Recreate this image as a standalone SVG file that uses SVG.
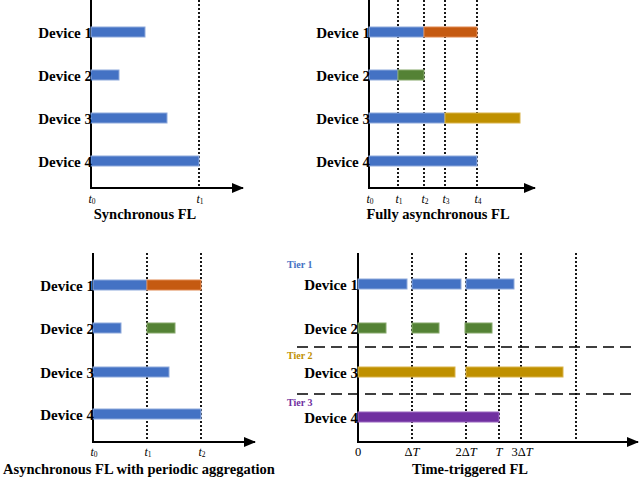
<svg xmlns="http://www.w3.org/2000/svg" width="640" height="480" viewBox="0 0 640 480">
<defs>
<marker id="arr" markerWidth="12" markerHeight="10" refX="11" refY="5" orient="auto" markerUnits="userSpaceOnUse">
<path d="M0,0 L12,5 L0,10 z" fill="#000"/>
</marker>
<style>
.ax{stroke:#000;stroke-width:2;fill:none}
.dot{stroke:#000;stroke-width:1.8;stroke-dasharray:2 2;fill:none}
.dash{stroke:#000;stroke-width:1.6;stroke-dasharray:11 6;fill:none}
.dev{font-family:"Liberation Serif",serif;font-weight:bold;font-size:15px;text-anchor:end;fill:#000}
.ttl{font-family:"Liberation Serif",serif;font-weight:bold;font-size:14.5px;text-anchor:middle;fill:#000}
.tl{font-family:"Liberation Serif",serif;font-style:italic;font-size:12px;text-anchor:middle;fill:#000}
.sub{font-size:7.5px;font-style:normal}
.dl{font-family:"Liberation Serif",serif;font-size:12.5px;text-anchor:middle;fill:#000}
.tier{font-family:"Liberation Serif",serif;font-weight:bold;font-size:10px}
.b{fill:#4472C4;stroke:#8EA9DB;stroke-width:1}
.o{fill:#C55A11;stroke:#E08850;stroke-width:1}
.g{fill:#548235;stroke:#86A86A;stroke-width:1}
.y{fill:#BF9000;stroke:#D9B34A;stroke-width:1}
.p{fill:#7030A0;stroke:#9A66C0;stroke-width:1}
</style>
</defs>

<!-- Panel 1: Synchronous FL -->
<g id="panel1">
<g id="p1-connectors">
<line class="dot" x1="199" y1="0" x2="199" y2="188"/>
<line class="ax" x1="91" y1="0" x2="91" y2="188"/>
<line class="ax" x1="90" y1="188" x2="243" y2="188" marker-end="url(#arr)"/>
</g>
<g id="p1-dev1"><rect class="b" x="91" y="27" width="54" height="10"/><text class="dev" x="92" y="37.5">Device 1</text></g>
<g id="p1-dev2"><rect class="b" x="91" y="70" width="28" height="10"/><text class="dev" x="92" y="80.5">Device 2</text></g>
<g id="p1-dev3"><rect class="b" x="91" y="113" width="76" height="10"/><text class="dev" x="92" y="123.5">Device 3</text></g>
<g id="p1-dev4"><rect class="b" x="91" y="156" width="108" height="10"/><text class="dev" x="92" y="166.5">Device 4</text></g>
<text class="tl" x="92" y="203">t<tspan class="sub" dy="1">0</tspan></text>
<text class="tl" x="200" y="203">t<tspan class="sub" dy="1">1</tspan></text>
<text class="ttl" x="145" y="219">Synchronous FL</text>
</g>

<!-- Panel 2: Fully asynchronous FL -->
<g id="panel2">
<g id="p2-connectors">
<line class="dot" x1="398" y1="0" x2="398" y2="188"/>
<line class="dot" x1="424" y1="0" x2="424" y2="188"/>
<line class="dot" x1="445" y1="0" x2="445" y2="188"/>
<line class="dot" x1="477" y1="0" x2="477" y2="188"/>
<line class="ax" x1="369" y1="0" x2="369" y2="188"/>
<line class="ax" x1="368" y1="188" x2="535" y2="188" marker-end="url(#arr)"/>
</g>
<g id="p2-dev1"><rect class="b" x="369" y="27" width="55" height="10"/><rect class="o" x="424" y="27" width="53" height="10"/><text class="dev" x="370" y="37.5">Device 1</text></g>
<g id="p2-dev2"><rect class="b" x="369" y="70" width="29" height="10"/><rect class="g" x="398" y="70" width="26" height="10"/><text class="dev" x="370" y="80.5">Device 2</text></g>
<g id="p2-dev3"><rect class="b" x="369" y="113" width="76" height="10"/><rect class="y" x="445" y="113" width="75" height="10"/><text class="dev" x="370" y="123.5">Device 3</text></g>
<g id="p2-dev4"><rect class="b" x="369" y="156" width="108" height="10"/><text class="dev" x="370" y="166.5">Device 4</text></g>
<text class="tl" x="370" y="203">t<tspan class="sub" dy="1">0</tspan></text>
<text class="tl" x="399" y="203">t<tspan class="sub" dy="1">1</tspan></text>
<text class="tl" x="425" y="203">t<tspan class="sub" dy="1">2</tspan></text>
<text class="tl" x="446" y="203">t<tspan class="sub" dy="1">3</tspan></text>
<text class="tl" x="478" y="203">t<tspan class="sub" dy="1">4</tspan></text>
<text class="ttl" x="438" y="219">Fully asynchronous FL</text>
</g>

<!-- Panel 3: Asynchronous FL with periodic aggregation -->
<g id="panel3">
<g id="p3-connectors">
<line class="dot" x1="147" y1="253" x2="147" y2="442"/>
<line class="dot" x1="201" y1="253" x2="201" y2="442"/>
<line class="ax" x1="93" y1="253" x2="93" y2="442"/>
<line class="ax" x1="92" y1="442" x2="255" y2="442" marker-end="url(#arr)"/>
</g>
<g id="p3-dev1"><rect class="b" x="93" y="280" width="54" height="10"/><rect class="o" x="147" y="280" width="54" height="10"/><text class="dev" x="94" y="290.5">Device 1</text></g>
<g id="p3-dev2"><rect class="b" x="93" y="323" width="28" height="10"/><rect class="g" x="147" y="323" width="28" height="10"/><text class="dev" x="94" y="333.5">Device 2</text></g>
<g id="p3-dev3"><rect class="b" x="93" y="367" width="76" height="10"/><text class="dev" x="94" y="377.5">Device 3</text></g>
<g id="p3-dev4"><rect class="b" x="93" y="409" width="108" height="10"/><text class="dev" x="94" y="419.5">Device 4</text></g>
<text class="tl" x="94" y="456">t<tspan class="sub" dy="1">0</tspan></text>
<text class="tl" x="148" y="456">t<tspan class="sub" dy="1">1</tspan></text>
<text class="tl" x="202" y="456">t<tspan class="sub" dy="1">2</tspan></text>
<text class="ttl" x="139" y="474">Asynchronous FL with periodic aggregation</text>
</g>

<!-- Panel 4: Time-triggered FL -->
<g id="panel4">
<g id="p4-connectors">
<line class="dot" x1="412" y1="253" x2="412" y2="442"/>
<line class="dot" x1="466" y1="253" x2="466" y2="442"/>
<line class="dot" x1="499" y1="253" x2="499" y2="442"/>
<line class="dot" x1="521" y1="253" x2="521" y2="442"/>
<line class="dot" x1="576" y1="253" x2="576" y2="442"/>
<line class="dash" x1="297" y1="347" x2="632" y2="347"/>
<line class="dash" x1="297" y1="394" x2="636" y2="394"/>
<line class="ax" x1="358" y1="253" x2="358" y2="442"/>
<line class="ax" x1="357" y1="442" x2="638" y2="442" marker-end="url(#arr)"/>
</g>
<text class="tier" x="287" y="268" fill="#4472C4">Tier 1</text>
<text class="tier" x="287" y="359" fill="#BF9000">Tier 2</text>
<text class="tier" x="287" y="406" fill="#7030A0">Tier 3</text>
<g id="p4-dev1"><rect class="b" x="358" y="279" width="49" height="10"/><rect class="b" x="412" y="279" width="49" height="10"/><rect class="b" x="466" y="279" width="48" height="10"/><text class="dev" x="358" y="290">Device 1</text></g>
<g id="p4-dev2"><rect class="g" x="358" y="323" width="28" height="10"/><rect class="g" x="412" y="323" width="27" height="10"/><rect class="g" x="465" y="323" width="27" height="10"/><text class="dev" x="358" y="333.5">Device 2</text></g>
<g id="p4-dev3"><rect class="y" x="358" y="367" width="97" height="10"/><rect class="y" x="466" y="367" width="97" height="10"/><text class="dev" x="358" y="377.5">Device 3</text></g>
<g id="p4-dev4"><rect class="p" x="358" y="412" width="141" height="10"/><text class="dev" x="358" y="422.5">Device 4</text></g>
<text class="dl" x="358" y="456">0</text>
<text class="dl" x="412" y="456">Δ<tspan font-style="italic">T</tspan></text>
<text class="dl" x="466" y="456">2Δ<tspan font-style="italic">T</tspan></text>
<text class="dl" x="499" y="456"><tspan font-style="italic">T</tspan></text>
<text class="dl" x="522" y="456">3Δ<tspan font-style="italic">T</tspan></text>
<text class="ttl" x="470" y="474">Time-triggered FL</text>
</g>
</svg>
